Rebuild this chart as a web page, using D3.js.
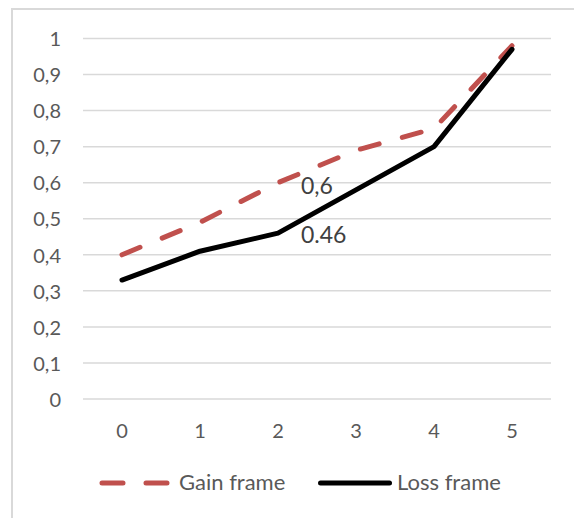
<!DOCTYPE html>
<html>
<head>
<meta charset="utf-8">
<script src="https://cdn.jsdelivr.net/npm/d3@7"></script>
<style>
  html, body { margin: 0; padding: 0; background: #fff; }
  svg { display: block; }
  text { font-family: Lato, "Open Sans", sans-serif; }
</style>
</head>
<body>
<div id="chart"></div>
<script>
// Frame position on the x axis
const categories = [0, 1, 2, 3, 4, 5];
const gainFrame = [0.40, 0.49, 0.60, 0.69, 0.75, 0.98];
const lossFrame = [0.33, 0.41, 0.46, 0.58, 0.70, 0.97];
const yTicks = [0, 0.1, 0.2, 0.3, 0.4, 0.5, 0.6, 0.7, 0.8, 0.9, 1];
const seriesNames = ["Gain frame", "Loss frame"];
// Values annotated next to category 2
const labelIndex = 2;
const gainLabel = "0,6";
const lossLabel = "0.46";

const W = 574, H = 518;
const svg = d3.select("#chart").append("svg").attr("width", W).attr("height", H);

// chart area outline (runs off the right and bottom edges)
svg.append("rect")
  .attr("x", 12).attr("y", 9)
  .attr("width", W + 20).attr("height", H + 20)
  .attr("fill", "none").attr("stroke", "#d9d9d9").attr("stroke-width", 2);

const x = d3.scaleBand().domain(categories).range([83, 551]).padding(0);
const xc = d => x(d) + x.bandwidth() / 2;
const y = d3.scaleLinear().domain([0, 1]).range([399, 38.5]);

const fmt = v => String(v).replace(".", ",");

// horizontal gridlines
svg.append("g").selectAll("line").data(yTicks).join("line")
  .attr("x1", 83).attr("x2", 551)
  .attr("y1", d => y(d)).attr("y2", d => y(d))
  .attr("stroke", "#d9d9d9").attr("stroke-width", 1.5);

// y axis labels
const yAxis = svg.append("g").attr("transform", "translate(61,0)")
  .call(d3.axisLeft(y).tickValues(yTicks).tickFormat(fmt).tickSize(0).tickPadding(0));
yAxis.select(".domain").remove();
yAxis.selectAll("text")
  .attr("fill", "#595959").attr("font-size", 20).attr("dy", "0.36em");

// x axis labels
const xAxis = svg.append("g").attr("transform", "translate(0,399)")
  .call(d3.axisBottom(x).tickSize(0).tickPadding(0));
xAxis.select(".domain").remove();
xAxis.selectAll("text")
  .attr("fill", "#595959").attr("font-size", 20).attr("dy", 0).attr("y", 39);

const line = d3.line().x((d, i) => xc(categories[i])).y(d => y(d));

svg.append("path").datum(gainFrame)
  .attr("d", line).attr("fill", "none")
  .attr("stroke", "#c0504d").attr("stroke-width", 5)
  .attr("stroke-linecap", "round").attr("stroke-linejoin", "round")
  .attr("stroke-dasharray", "19.5,24");

svg.append("path").datum(lossFrame)
  .attr("d", line).attr("fill", "none")
  .attr("stroke", "#000").attr("stroke-width", 5)
  .attr("stroke-linecap", "round").attr("stroke-linejoin", "round");

// value annotations
const cx = xc(categories[labelIndex]);
svg.append("text")
  .attr("x", cx + 23).attr("y", y(gainFrame[labelIndex]) + 11)
  .attr("fill", "#404040").attr("font-size", 23).text(gainLabel);
svg.append("text")
  .attr("x", cx + 23).attr("y", y(lossFrame[labelIndex]) + 10)
  .attr("fill", "#404040").attr("font-size", 23).text(lossLabel);

// legend
const lg = svg.append("g");
lg.append("line").attr("x1", 102).attr("x2", 167).attr("y1", 483).attr("y2", 483)
  .attr("stroke", "#c0504d").attr("stroke-width", 5)
  .attr("stroke-linecap", "round").attr("stroke-dasharray", "21,23");
lg.append("text").attr("x", 179).attr("y", 490)
  .attr("fill", "#595959").attr("font-size", 22).text(seriesNames[0]);
lg.append("line").attr("x1", 320.5).attr("x2", 389.5).attr("y1", 483).attr("y2", 483)
  .attr("stroke", "#000").attr("stroke-width", 5).attr("stroke-linecap", "round");
lg.append("text").attr("x", 397).attr("y", 490)
  .attr("fill", "#595959").attr("font-size", 22).text(seriesNames[1]);
</script>
</body>
</html>
